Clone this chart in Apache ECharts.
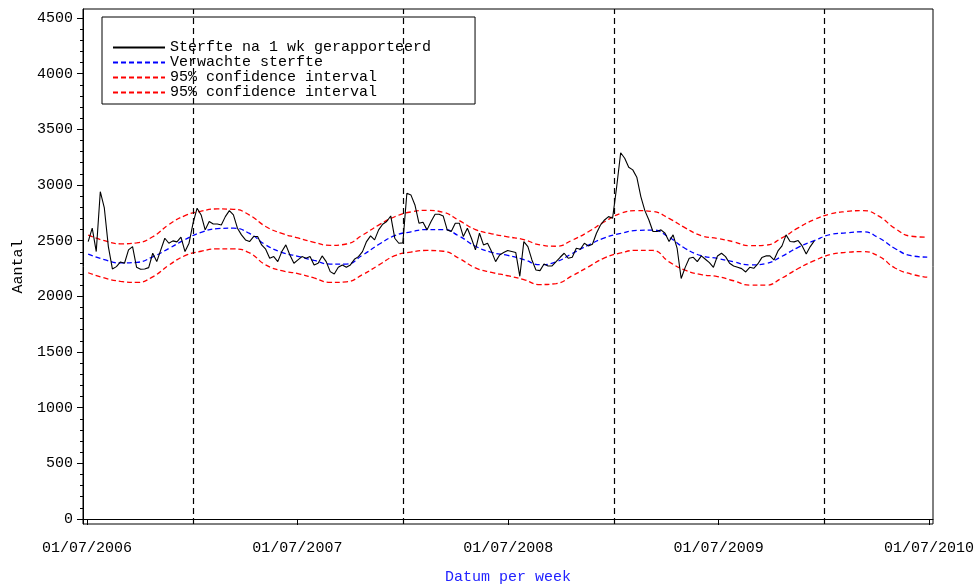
<!DOCTYPE html>
<html>
<head>
<meta charset="utf-8">
<title>Sterfte per week</title>
<script src="https://cdn.jsdelivr.net/npm/echarts@6/dist/echarts.min.js"></script>
<style>
  html, body { margin: 0; padding: 0; background: #ffffff; }
  #chart { width: 977px; height: 584px; }
</style>
</head>
<body>
<div id="chart"></div>
<script>
// weekly reported deaths (1 week after), first week starts 03/07/2006
const weeklyDeaths = [
  2492, 2612, 2402, 2940, 2794, 2447, 2246, 2267, 2309, 2297,
  2417, 2447, 2261, 2243, 2246, 2258, 2387, 2312, 2417, 2522,
  2477, 2498, 2489, 2531, 2402, 2477, 2657, 2792, 2731, 2597,
  2672, 2650, 2650, 2641, 2716, 2770, 2731, 2612, 2552, 2507,
  2492, 2537, 2537, 2462, 2423, 2342, 2357, 2312, 2402, 2462,
  2372, 2297, 2327, 2357, 2342, 2357, 2282, 2297, 2363, 2312,
  2222, 2201, 2261, 2282, 2261, 2282, 2333, 2357, 2402, 2492,
  2543, 2507, 2597, 2648, 2672, 2722, 2522, 2477, 2480, 2926,
  2911, 2821, 2657, 2665, 2597, 2672, 2738, 2738, 2722, 2597,
  2582, 2657, 2657, 2537, 2612, 2522, 2417, 2567, 2462, 2477,
  2402, 2312, 2372, 2393, 2411, 2402, 2393, 2180, 2492, 2447,
  2327, 2237, 2231, 2291, 2273, 2273, 2312, 2351, 2387, 2342,
  2351, 2432, 2423, 2477, 2453, 2468, 2567, 2641, 2686, 2716,
  2702, 2980, 3290, 3240, 3160, 3136, 3070, 2896, 2770, 2686,
  2582, 2582, 2597, 2567, 2492, 2552, 2430, 2160, 2260, 2342,
  2351, 2312, 2363, 2333, 2303, 2261, 2363, 2387, 2357, 2297,
  2273, 2261, 2249, 2219, 2261, 2252, 2291, 2348, 2363, 2363,
  2327, 2408, 2453, 2552, 2492, 2489, 2501, 2453, 2381, 2447,
  2498
];

// expected deaths + 95% interval, read every 4 weeks from 03/07/2006
const expectedDeaths = [
  2380, 2330, 2300, 2305, 2355, 2430, 2510, 2575, 2608, 2612,
  2565, 2462, 2395, 2360, 2322, 2290, 2290, 2370, 2465, 2545,
  2580, 2600, 2600, 2540, 2450, 2395, 2368, 2330, 2285, 2310,
  2385, 2460, 2525, 2565, 2592, 2595, 2530, 2430, 2365, 2340,
  2310, 2282, 2295, 2360, 2440, 2500, 2555, 2570, 2580, 2525,
  2430, 2365, 2352
];
const upperCI = [
  2550, 2500, 2472, 2480, 2535, 2645, 2725, 2765, 2785, 2782,
  2730, 2627, 2565, 2525, 2485, 2458, 2470, 2550, 2640, 2715,
  2758, 2772, 2755, 2680, 2600, 2562, 2535, 2510, 2462, 2450,
  2505, 2580, 2670, 2745, 2770, 2762, 2700, 2615, 2545, 2520,
  2490, 2455, 2460, 2525, 2615, 2690, 2740, 2762, 2770, 2720,
  2610, 2540, 2531
];
const lowerCI = [
  2212, 2165, 2135, 2125, 2175, 2280, 2365, 2405, 2426, 2426,
  2390, 2282, 2230, 2205, 2165, 2125, 2130, 2195, 2280, 2365,
  2398, 2412, 2405, 2340, 2255, 2215, 2185, 2150, 2106, 2115,
  2185, 2265, 2345, 2390, 2413, 2412, 2310, 2235, 2195, 2178,
  2140, 2100, 2100, 2165, 2250, 2320, 2375, 2395, 2402, 2360,
  2255, 2200, 2172
];

// axis labels / markers
const yearTicks = ['2006-07-01', '2007-07-01', '2008-07-01', '2009-07-01', '2010-07-01'];
const yearStarts = ['2007-01-01', '2008-01-01', '2009-01-01', '2010-01-01'];
const yTicks = [0, 500, 1000, 1500, 2000, 2500, 3000, 3500, 4000, 4500];

const DAY = 86400000;
const firstWeek = Date.UTC(2006, 6, 3);
const toTime = (s) => { const p = s.split('-'); return Date.UTC(+p[0], +p[1] - 1, +p[2]); };

const weekly = weeklyDeaths.map((v, i) => [firstWeek + i * 7 * DAY, v]);
const every4 = (arr) => arr.map((v, i) => [firstWeek + i * 28 * DAY, v]);

const minorTicks = [];
for (let v = 0; v <= 4500; v += 100) minorTicks.push(v);

const pad = (n) => (n < 10 ? '0' + n : '' + n);
const fmtDate = (t) => {
  const d = new Date(t);
  return pad(d.getUTCDate()) + '/' + pad(d.getUTCMonth() + 1) + '/' + d.getUTCFullYear();
};

const mono = '"Liberation Mono", "DejaVu Sans Mono", monospace';

const myChart = echarts.init(document.getElementById('chart'));

const option = {
  animation: false,
  backgroundColor: '#ffffff',
  grid: {
    left: 83, right: 44, top: 9, bottom: 60,
    outerBoundsMode: 'none',
    containLabel: false,
    show: true, borderColor: '#000', borderWidth: 1
  },
  legend: {
    orient: 'vertical',
    left: 102, top: 17,
    padding: [23, 44, 4, 10],
    borderColor: '#000', borderWidth: 1,
    itemWidth: 52, itemHeight: 10, itemGap: 0,
    itemStyle: { opacity: 0 },
    textStyle: { fontFamily: mono, fontSize: 15, color: '#000', lineHeight: 14 },
    data: ['Sterfte na 1 wk gerapporteerd', 'Verwachte sterfte',
      '95% confidence interval', '95% confidence interval\u200b']
  },
  xAxis: {
    // timestamps on a value axis so ticks can sit on 1 July
    type: 'value',
    min: toTime('2006-06-24'),
    max: toTime('2010-07-08'),
    name: 'Datum per week',
    nameLocation: 'middle',
    nameGap: 46,
    nameTextStyle: { fontFamily: mono, fontSize: 15, color: '#2222ff' },
    axisLine: { lineStyle: { color: '#000', width: 1 } },
    axisTick: { show: true, length: 6, customValues: yearTicks.map(toTime), lineStyle: { color: '#000' } },
    axisLabel: {
      customValues: yearTicks.map(toTime),
      formatter: (v) => fmtDate(v),
      margin: 17,
      fontFamily: mono, fontSize: 15, color: '#000'
    },
    splitLine: { show: false }
  },
  yAxis: [
    {
      type: 'value',
      min: -45, max: 4581,
      name: 'Aantal',
      nameLocation: 'middle',
      nameGap: 57,
      nameTextStyle: { fontFamily: mono, fontSize: 15, color: '#000' },
      axisLine: { show: true, lineStyle: { color: '#000' } },
      axisTick: { show: true, length: 6, customValues: yTicks, lineStyle: { color: '#000' } },
      axisLabel: {
        customValues: yTicks, formatter: (v) => String(v),
        margin: 10, fontFamily: mono, fontSize: 15, color: '#000'
      },
      splitLine: { show: false }
    },
    {
      // minor ticks every 100
      type: 'value',
      position: 'left',
      min: -45, max: 4581,
      axisLine: { show: false },
      axisTick: { show: true, length: 3, customValues: minorTicks, lineStyle: { color: '#000' } },
      axisLabel: { show: false },
      splitLine: { show: false }
    }
  ],
  series: [
    {
      name: 'Sterfte na 1 wk gerapporteerd',
      type: 'line',
      data: weekly,
      symbol: 'none',
      lineStyle: { color: '#000', width: 1.1 },
      itemStyle: { color: '#000' },
      z: 5,
      markLine: {
        silent: true,
        symbol: ['none', 'none'],
        label: { show: false },
        lineStyle: { color: '#000', width: 1.2, type: [6, 4] },
        data: yearStarts.map((d) => ({ xAxis: toTime(d) }))
      }
    },
    {
      name: 'Verwachte sterfte',
      type: 'line',
      data: every4(expectedDeaths),
      smooth: true,
      symbol: 'none',
      lineStyle: { color: '#0000ff', width: 1.3, type: [5, 3] },
      itemStyle: { color: '#0000ff' }
    },
    {
      name: '95% confidence interval',
      type: 'line',
      data: every4(upperCI),
      smooth: true,
      symbol: 'none',
      lineStyle: { color: '#ff0000', width: 1.3, type: [5, 3] },
      itemStyle: { color: '#ff0000' }
    },
    {
      name: '95% confidence interval\u200b',
      type: 'line',
      data: every4(lowerCI),
      smooth: true,
      symbol: 'none',
      lineStyle: { color: '#ff0000', width: 1.3, type: [5, 3] },
      itemStyle: { color: '#ff0000' }
    }
  ]
};

myChart.setOption(option);
</script>
</body>
</html>
